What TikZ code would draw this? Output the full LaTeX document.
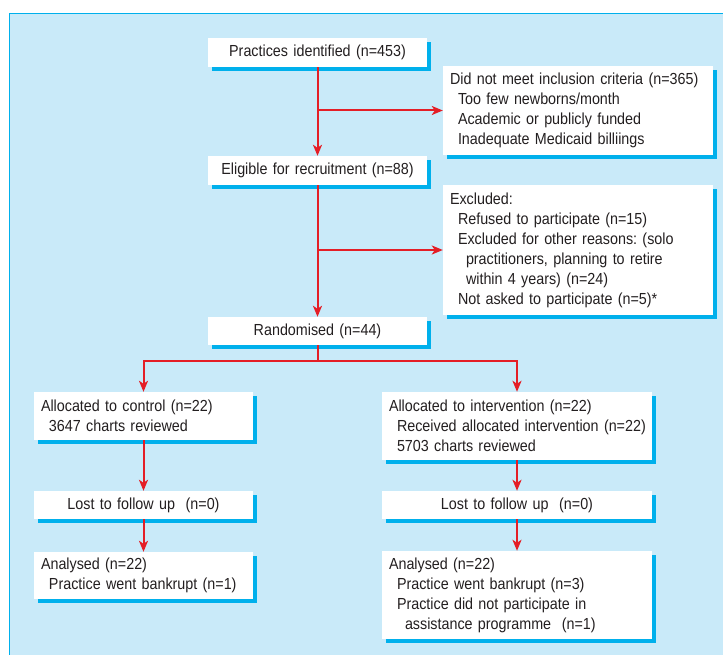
\documentclass[tikz,border=0pt]{standalone}
\usepackage{fontspec}
\setmainfont{Liberation Sans}[FakeStretch=0.895]
\usetikzlibrary{arrows.meta,shadows}
\definecolor{bgblue}{RGB}{201,234,249}
\definecolor{cyanb}{RGB}{0,176,236}
\definecolor{redarr}{RGB}{228,30,38}
\definecolor{txt}{RGB}{35,31,32}
\newcommand{\ind}{\hspace*{8pt}}
\newcommand{\indd}{\hspace*{16pt}}
\begin{document}
\begin{tikzpicture}[x=1pt,y=-1pt,
 box/.style={fill=white, draw=none, text=txt, inner xsep=7pt, inner ysep=0pt,
   font=\fontsize{16}{20}\selectfont\frenchspacing,
   drop shadow={shadow xshift=4pt,shadow yshift=-4pt,fill=cyanb,opacity=1}},
 cbox/.style={box, align=center},
 lbox/.style={box, align=left},
 arr/.style={draw=redarr, line width=2pt, -{Stealth[length=11pt,width=9pt,inset=3pt]}},
 ln/.style={draw=redarr, line width=2pt}]
\useasboundingbox (0,0) rectangle (723,655);
\fill[white] (0,0) rectangle (723,655);
\draw[fill=bgblue, draw=cyanb, line width=1pt] (9.5,13.5) rectangle (730,662);

\node[cbox, text width=205pt, minimum height=29pt] (pi) at (317.5,52.5) {Practices identified (n=453)};
\node[cbox, text width=205pt, minimum height=29pt] (el) at (317.5,170.5) {Eligible for recruitment (n=88)};
\node[cbox, text width=205pt, minimum height=28pt] (rd) at (317.5,331) {Randomised (n=44)};

\node[lbox, text width=256pt, minimum height=89pt] (dn) at (578,110.5) {Did not meet inclusion criteria (n=365)\\
\ind Too few newborns/month\\
\ind Academic or publicly funded\\
\ind Inadequate Medicaid billiings};

\node[lbox, text width=256pt, minimum height=130pt] (ex) at (578,250) {Excluded:\\
\ind Refused to participate (n=15)\\
\ind Excluded for other reasons: (solo\\
\indd practitioners, planning to retire\\
\indd within 4 years) (n=24)\\
\ind Not asked to participate (n=5)*};

\node[lbox, text width=205pt, minimum height=48pt] (ac) at (143.5,416) {Allocated to control (n=22)\\
\ind 3647 charts reviewed};
\node[cbox, text width=205pt, minimum height=28pt] (lc) at (143.5,505) {Lost to follow up\ \ (n=0)};
\node[lbox, text width=205pt, minimum height=47pt] (anc) at (143.5,575.5) {Analysed (n=22)\\
\ind Practice went bankrupt (n=1)};

\node[lbox, text width=256pt, minimum height=68pt] (ai) at (517,426) {Allocated to intervention (n=22)\\
\ind\mbox{Received allocated intervention (n=22)}\\
\ind 5703 charts reviewed};
\node[cbox, text width=256pt, minimum height=28pt] (li) at (517,505) {Lost to follow up\ \ (n=0)};
\node[lbox, text width=256pt, minimum height=88pt] (ani) at (517,595) {Analysed (n=22)\\
\ind Practice went bankrupt (n=3)\\
\ind Practice did not participate in\\
\indd assistance programme\ \ (n=1)};

\draw[arr] (pi) -- (el);
\draw[arr] (pi.south |- dn.west) -- (dn.west);
\draw[arr] (el) -- (rd);
\draw[arr] (el.south |- ex.west) -- (ex.west);
\draw[ln] (rd.south) -- ++(0,16) coordinate (sp);
\draw[arr] (sp) -| (ac.north);
\draw[arr] (sp) -| (ai.north);
\draw[arr] (ac) -- (lc);
\draw[arr] (lc) -- (anc);
\draw[arr] (ai) -- (li);
\draw[arr] (li) -- (ani);
\end{tikzpicture}
\end{document}
